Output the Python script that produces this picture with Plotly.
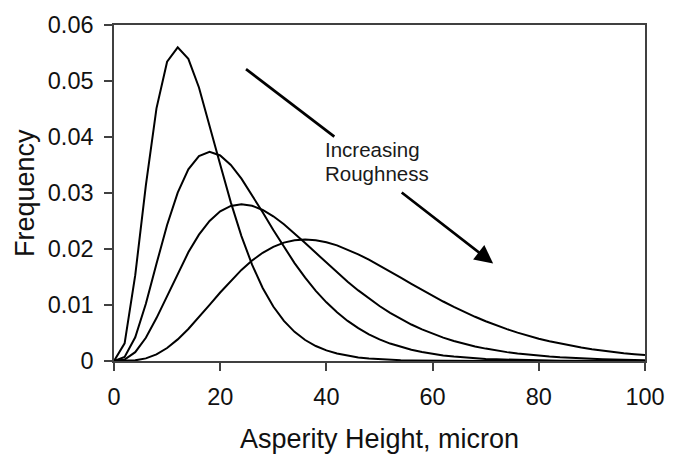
import plotly.graph_objects as go

# Asperity height (micron) sampled every 2 microns
X_MICRON = [0, 2, 4, 6, 8, 10, 12, 14, 16, 18, 20, 22, 24, 26, 28, 30, 32, 34, 36, 38,
            40, 42, 44, 46, 48, 50, 52, 54, 56, 58, 60, 62, 64, 66, 68, 70, 72, 74, 76, 78,
            80, 82, 84, 86, 88, 90, 92, 94, 96, 98, 100]

# Height distributions, smoothest surface first
FREQ_SMOOTH = [0, 0.003159, 0.015328, 0.031378, 0.045112, 0.053441, 0.056010, 0.053946,
               0.048842, 0.042179, 0.035093, 0.028331, 0.022309, 0.017203, 0.013032,
               0.009722, 0.007157, 0.005207, 0.003749, 0.002674, 0.001892, 0.001328,
               0.000926, 0.000642, 0.000442, 0.000303, 0.000207, 0.000141, 0.000095,
               0.000064, 0.000043, 0.000029, 0.000019, 0.000013, 0.000008, 0.000006,
               0.000004, 0.000002, 0.000002, 0.000001, 0.000001, 0, 0, 0, 0, 0, 0, 0, 0, 0, 0]

FREQ_MEDIUM = [0, 0.000737, 0.004226, 0.010219, 0.017356, 0.024290, 0.030074, 0.034219,
               0.036600, 0.037340, 0.036702, 0.035001, 0.032562, 0.029665, 0.026547,
               0.023395, 0.020345, 0.017485, 0.014873, 0.012533, 0.010474, 0.008688,
               0.007158, 0.005860, 0.004771, 0.003864, 0.003114, 0.002499, 0.001997,
               0.001590, 0.001261, 0.000997, 0.000786, 0.000617, 0.000484, 0.000378,
               0.000295, 0.000229, 0.000178, 0.000138, 0.000107, 0.000082, 0.000063,
               0.000049, 0.000037, 0.000029, 0.000022, 0.000017, 0.000013, 0.000010, 0.000007]

FREQ_ROUGH = [0, 0.000254, 0.001580, 0.004152, 0.007664, 0.011658, 0.015689, 0.019402,
              0.022556, 0.025012, 0.026720, 0.027698, 0.028005, 0.027730, 0.026973,
              0.025838, 0.024421, 0.022812, 0.021090, 0.019317, 0.017547, 0.015819,
              0.014165, 0.012606, 0.011155, 0.009819, 0.008601, 0.007502, 0.006516,
              0.005638, 0.004861, 0.004177, 0.003578, 0.003056, 0.002603, 0.002212,
              0.001874, 0.001585, 0.001337, 0.001126, 0.000946, 0.000793, 0.000664,
              0.000555, 0.000463, 0.000386, 0.000321, 0.000267, 0.000221, 0.000183, 0.000152]

FREQ_ROUGHEST = [0, 0.000009, 0.000116, 0.000470, 0.001188, 0.002323, 0.003857, 0.005722,
                 0.007816, 0.010025, 0.012235, 0.014343, 0.016267, 0.017941, 0.019322,
                 0.020390, 0.021135, 0.021568, 0.021708, 0.021578, 0.021214, 0.020647,
                 0.019914, 0.019049, 0.018084, 0.017049, 0.015971, 0.014873, 0.013773,
                 0.012691, 0.011638, 0.010625, 0.009660, 0.008748, 0.007894, 0.007098,
                 0.006361, 0.005684, 0.005064, 0.004498, 0.003986, 0.003523, 0.003106,
                 0.002733, 0.002399, 0.002102, 0.001838, 0.001604, 0.001397, 0.001215, 0.001055]

SERIES = [FREQ_SMOOTH, FREQ_MEDIUM, FREQ_ROUGH, FREQ_ROUGHEST]

X_TICKS = [0, 20, 40, 60, 80, 100]
Y_TICKS = [0, 0.01, 0.02, 0.03, 0.04, 0.05, 0.06]
Y_TICK_TEXT = ["0", "0.01", "0.02", "0.03", "0.04", "0.05", "0.06"]

FONT = "Liberation Sans, Arial, sans-serif"
INK = "#111111"
AXIS = "#404040"

fig = go.Figure()
for ys in SERIES:
    fig.add_trace(go.Scatter(x=X_MICRON, y=ys, mode="lines",
                             line=dict(color="black", width=2),
                             showlegend=False, hoverinfo="skip"))

# Trend arrow, broken where its label sits: tail piece as a line...
ARROW_W = 2.7
fig.add_trace(go.Scatter(x=[24.86, 41.49], y=[0.05211, 0.04006], mode="lines",
                         line=dict(color="black", width=ARROW_W),
                         showlegend=False, hoverinfo="skip"))

fig.update_layout(
    width=677, height=454,
    margin=dict(l=114, r=20, t=21, b=93),
    paper_bgcolor="white", plot_bgcolor="white",
    font=dict(family=FONT, color=INK),
)

fig.update_xaxes(
    range=[0, 100], tickvals=X_TICKS, ticks="outside", ticklen=8, tickwidth=1.5,
    tickcolor=AXIS, showline=True, linecolor=AXIS, linewidth=1.5, mirror=True,
    showgrid=False, zeroline=False, ticklabelstandoff=6,
    tickfont=dict(size=23.5, family=FONT, color=INK),
)
fig.update_yaxes(
    range=[0, 0.06], tickvals=Y_TICKS, ticktext=Y_TICK_TEXT, ticks="outside",
    ticklen=8, tickwidth=1.5, tickcolor=AXIS, showline=True, linecolor=AXIS,
    linewidth=1.5, mirror=True, showgrid=False, zeroline=False, ticklabelstandoff=6,
    tickfont=dict(size=23.5, family=FONT, color=INK),
)

# ...and the head piece as an arrow
fig.add_annotation(x=71.40, y=0.01742, ax=53.90, ay=0.03030, xref="x", yref="y",
                   axref="x", ayref="y", text="", showarrow=True, arrowhead=2,
                   arrowsize=1.35, arrowwidth=ARROW_W, arrowcolor="black")

# Axis titles
fig.add_annotation(text="Asperity Height, micron", xref="paper", yref="paper",
                   x=0.5, y=-(440 - 361) / 340, xanchor="center", yanchor="middle",
                   showarrow=False, font=dict(size=27, family=FONT, color=INK))
fig.add_annotation(text="Frequency", xref="paper", yref="paper",
                   x=(23 - 114) / 543, y=0.5, xanchor="center", yanchor="middle",
                   textangle=-90, showarrow=False, font=dict(size=27, family=FONT, color=INK))

# Arrow label
LABEL_FONT = dict(size=20.5, family=FONT, color="#1a1a1a")
fig.add_annotation(text="Increasing", x=39.41, y=0.03771, xref="x", yref="y",
                   xanchor="left", yanchor="middle", showarrow=False, font=LABEL_FONT)
fig.add_annotation(text="Roughness", x=39.41, y=0.03354, xref="x", yref="y",
                   xanchor="left", yanchor="middle", showarrow=False, font=LABEL_FONT)

fig.write_html("out.html")
